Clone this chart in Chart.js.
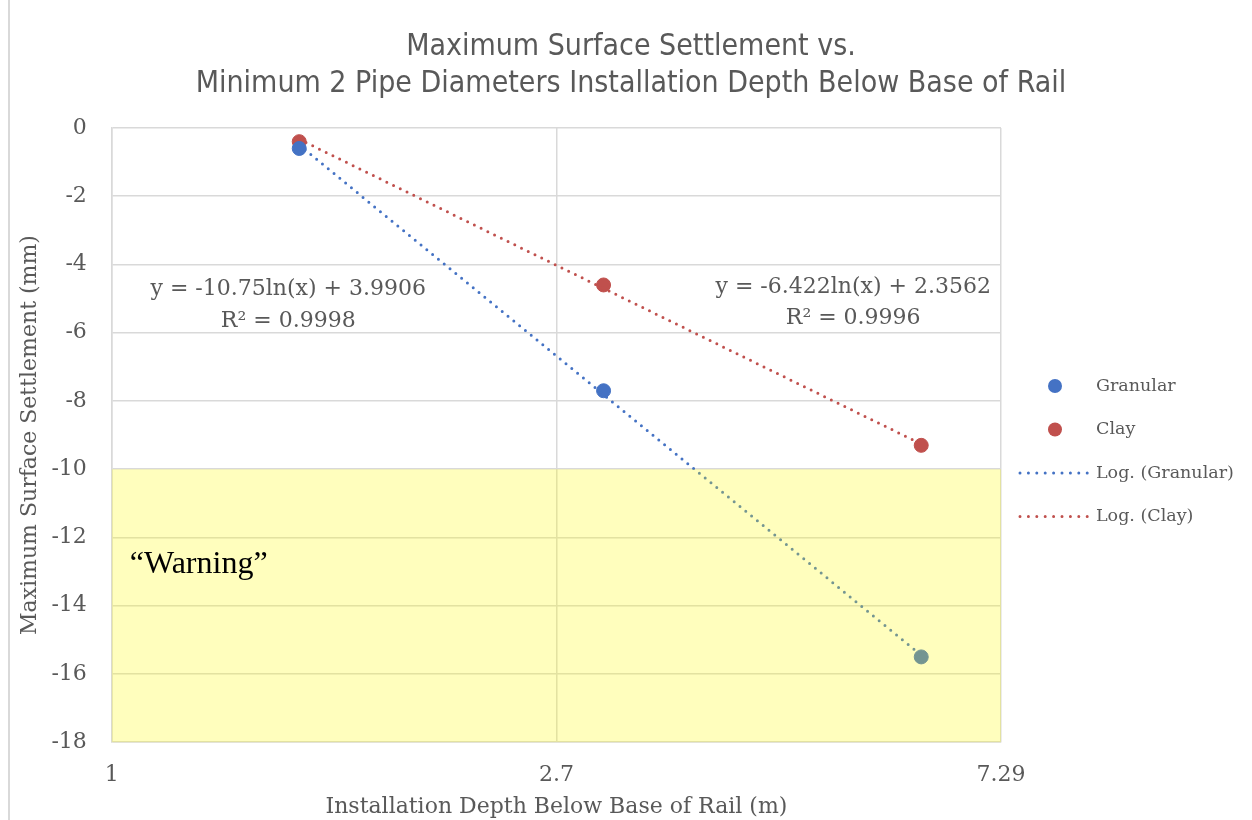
<!DOCTYPE html>
<html lang="en">
<head>
    <meta charset="UTF-8">
    <script src="https://cdn.jsdelivr.net/npm/chart.js@4.4.0/dist/chart.umd.min.js"></script>
    <title>Settlement</title>
    <style>
        body { margin: 0; background: #fff; }
        #wrap { position: relative; width: 1252px; height: 820px; }
        #wrap:before { content: ''; position: absolute; left: 8px; top: 0; bottom: 0; border-left: 2px solid #d9d9d9; }
    </style>
</head>
<body>
<div id="wrap"><canvas id="container" width="1252" height="820"></canvas></div>

<script>
    // depth values (m) and settlement (mm)
    const depths = [1.52, 3.0, 6.1];
    const granular = [-0.6, -7.7, -15.5];
    const clay = [-0.4, -4.6, -9.3];

    // trendline end points (log fit, straight on the log axis)
    const trendX = [1.52, 6.1];
    const granularTrend = [-0.5, -15.45];
    const clayTrend = [-0.33, -9.26];

    const xTicks = [1, 2.7, 7.29];
    const warningLimit = [-10, -18];

    const titleLines = ['Maximum Surface Settlement vs.', 'Minimum 2 Pipe Diameters Installation Depth Below Base of Rail'];

    const blue = '#4472c4';
    const red = '#c0504d';
    const grey = '#595959';
    const serif = "'DejaVu Serif', serif";

    const pts = (xs, ys) => xs.map((x, i) => ({x: x, y: ys[i]}));

    const legendItems = [
        {label: 'Granular', color: blue, type: 'point'},
        {label: 'Clay', color: red, type: 'point'},
        {label: 'Log. (Granular)', color: blue, type: 'line'},
        {label: 'Log. (Clay)', color: red, type: 'line'}
    ];

    const overlay = {
        id: 'overlay',
        afterDatasetsDraw(chart) {
            const c = chart.ctx, a = chart.chartArea;
            const yS = chart.scales.y, xS = chart.scales.x;
            const top = yS.getPixelForValue(warningLimit[0]);
            const bot = yS.getPixelForValue(warningLimit[1]);
            c.save();
            c.fillStyle = 'rgba(255, 250, 0, 0.26)';
            c.fillRect(a.left, top, a.right - a.left, bot - top);

            c.fillStyle = '#000';
            c.font = "32px 'Liberation Serif', serif";
            c.textBaseline = 'middle';
            c.textAlign = 'left';
            c.fillText('\u201cWarning\u201d', a.left + 18, yS.getPixelForValue(-12.8));

            // title
            c.fillStyle = grey;
            c.textAlign = 'center';
            c.font = "30px 'Liberation Sans Narrow', 'DejaVu Sans Condensed', sans-serif";
            c.fillText(titleLines[0], 631, 47);
            c.fillText(titleLines[1], 631, 84);

            // trendline equations
            c.font = '22px ' + serif;
            let gx = xS.getPixelForValue(1.52) - 11;
            c.fillText('y = -10.75ln(x) + 3.9906', gx, yS.getPixelForValue(-4.72));
            c.fillText('R\u00b2 = 0.9998', gx, yS.getPixelForValue(-5.65));
            let cx = xS.getPixelForValue(5.24);
            c.fillText('y = -6.422ln(x) + 2.3562', cx, yS.getPixelForValue(-4.66));
            c.fillText('R\u00b2 = 0.9996', cx, yS.getPixelForValue(-5.57));

            // legend
            c.textAlign = 'left';
            c.font = '17.5px ' + serif;
            legendItems.forEach((it, i) => {
                const y = a.top + 258 + i * 43.5;
                const x0 = a.right + 18;
                if (it.type === 'point') {
                    c.fillStyle = it.color;
                    c.beginPath();
                    c.arc(x0 + 36, y, 7, 0, Math.PI * 2);
                    c.fill();
                } else {
                    c.strokeStyle = it.color;
                    c.lineWidth = 3;
                    c.lineCap = 'round';
                    c.setLineDash([0, 8.4]);
                    c.beginPath();
                    c.moveTo(x0 + 1, y);
                    c.lineTo(x0 + 69, y);
                    c.stroke();
                    c.setLineDash([]);
                }
                c.fillStyle = grey;
                c.fillText(it.label, x0 + 77, y);
            });
            c.restore();
        }
    };

    const ctx = document.getElementById('container').getContext('2d');
    new Chart(ctx, {
        type: 'scatter',
        data: {
            datasets: [
                {
                    label: 'Log. (Granular)', type: 'line', data: pts(trendX, granularTrend),
                    borderColor: blue, borderWidth: 3, borderDash: [0, 7.5], borderCapStyle: 'round',
                    pointRadius: 0, fill: false
                },
                {
                    label: 'Log. (Clay)', type: 'line', data: pts(trendX, clayTrend),
                    borderColor: red, borderWidth: 3, borderDash: [0, 7.5], borderCapStyle: 'round',
                    pointRadius: 0, fill: false
                },
                {
                    label: 'Granular', data: pts(depths, granular),
                    backgroundColor: blue, borderColor: blue, pointRadius: 7
                },
                {
                    label: 'Clay', data: pts(depths, clay),
                    backgroundColor: red, borderColor: red, pointRadius: 7
                }
            ]
        },
        options: {
            responsive: false,
            animation: false,
            layout: {padding: {left: 17, right: 251, top: 128, bottom: 0}},
            plugins: {
                legend: {display: false},
                tooltip: {enabled: false},
                title: {display: false}
            },
            scales: {
                x: {
                    type: 'logarithmic',
                    min: 1, max: 7.29,
                    afterBuildTicks: axis => { axis.ticks = xTicks.map(v => ({value: v})); },
                    ticks: {
                        color: grey, font: {family: serif, size: 22}, padding: 20,
                        autoSkip: false, maxRotation: 0,
                        callback: v => String(v)
                    },
                    grid: {color: '#d9d9d9', lineWidth: 1.5, drawTicks: false},
                    border: {color: '#d9d9d9', width: 1.5},
                    title: {display: true, text: 'Installation Depth Below Base of Rail (m)', color: grey, font: {family: serif, size: 22}, padding: {top: -15, bottom: 0}}
                },
                y: {
                    min: -18, max: 0,
                    ticks: {stepSize: 2, color: grey, font: {family: serif, size: 22}, padding: 25},
                    grid: {color: '#d9d9d9', lineWidth: 1.5, drawTicks: false},
                    border: {color: '#d9d9d9', width: 1.5},
                    title: {display: true, text: 'Maximum Surface Settlement (mm)', color: grey, font: {family: serif, size: 22}, padding: {top: 0, bottom: -17}}
                }
            }
        },
        plugins: [overlay]
    });
</script>
</body>
</html>
